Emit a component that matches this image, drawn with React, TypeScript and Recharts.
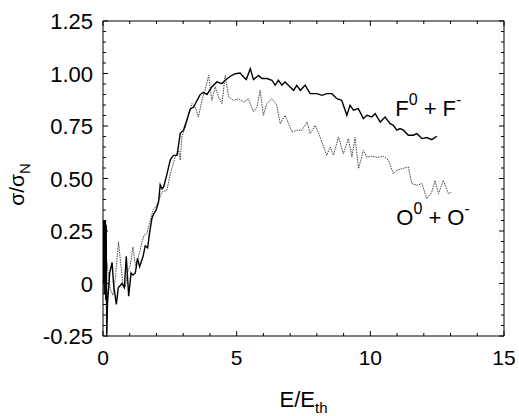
import React from 'react';
import { LineChart, Line, XAxis, YAxis, ReferenceDot, Label } from 'recharts';

// F0 + F- (solid)
const fEnergy = [0.00,0.015,0.03,0.045,0.06,0.075,0.09,0.105,0.12,0.14,0.17,0.25,0.34,0.40,0.50,0.57,0.71,0.80,0.87,0.96,1.05,1.12,1.21,1.29,1.37,1.50,1.58,1.67,1.74,1.83,1.89,1.99,2.08,2.14,2.21,2.27,2.39,2.52,2.64,2.77,2.89,3.01,3.14,3.26,3.39,3.51,3.64,3.76,3.89,4.07,4.26,4.45,4.57,4.76,4.95,5.13,5.26,5.36,5.51,5.63,5.82,5.94,6.13,6.32,6.44,6.56,6.69,6.81,7.00,7.13,7.25,7.38,7.56,7.75,8.00,8.19,8.37,8.56,8.75,8.93,9.12,9.24,9.37,9.55,9.74,9.87,10.06,10.18,10.37,10.55,10.74,10.86,10.99,11.11,11.24,11.42,11.61,11.74,11.93,12.11,12.30,12.49];
const fSigma = [0.30,0.00,0.30,-0.05,0.30,0.00,0.30,-0.08,0.28,-0.25,-0.09,0.05,0.10,-0.01,-0.10,-0.02,0.00,-0.02,0.13,-0.06,0.05,0.04,0.05,0.12,0.08,0.13,0.18,0.17,0.24,0.31,0.33,0.35,0.39,0.47,0.45,0.46,0.52,0.59,0.61,0.61,0.715,0.73,0.78,0.83,0.84,0.87,0.90,0.91,0.90,0.936,0.96,0.952,0.968,0.987,0.999,1.002,0.983,0.971,1.023,0.971,0.991,0.976,0.976,0.968,0.944,0.968,0.944,0.96,0.936,0.92,0.944,0.92,0.944,0.904,0.904,0.896,0.904,0.904,0.88,0.872,0.801,0.849,0.825,0.833,0.785,0.801,0.793,0.809,0.769,0.793,0.761,0.753,0.73,0.738,0.73,0.706,0.706,0.714,0.69,0.695,0.685,0.701];

// O0 + O- (dotted)
const oEnergy = [0.12,0.27,0.37,0.46,0.58,0.67,0.75,0.83,0.92,1.02,1.12,1.21,1.27,1.37,1.46,1.54,1.64,1.74,1.87,1.96,2.04,2.08,2.21,2.39,2.52,2.70,2.83,2.89,2.95,3.08,3.20,3.33,3.45,3.57,3.70,3.82,3.95,4.07,4.20,4.32,4.45,4.57,4.70,4.88,5.07,5.26,5.44,5.63,5.76,5.88,6.00,6.13,6.32,6.50,6.63,6.81,6.94,7.07,7.25,7.44,7.63,7.75,7.94,8.12,8.37,8.50,8.62,8.81,8.99,9.18,9.31,9.43,9.56,9.74,9.87,10.06,10.24,10.49,10.68,10.86,10.99,11.18,11.42,11.55,11.74,11.93,12.11,12.30,12.42,12.55,12.73,12.92,13.05];
const oSigma = [0.126,-0.024,-0.056,0.023,0.198,0.087,-0.009,-0.017,0.055,0.087,0.174,0.087,0.102,0.15,0.198,0.23,0.238,0.285,0.349,0.364,0.38,0.396,0.436,0.444,0.523,0.602,0.634,0.587,0.698,0.745,0.801,0.857,0.84,0.793,0.872,0.92,0.991,0.872,0.936,0.888,0.857,0.991,0.888,0.872,0.88,0.864,0.88,0.817,0.84,0.92,0.801,0.857,0.88,0.849,0.761,0.801,0.761,0.721,0.73,0.73,0.769,0.714,0.753,0.698,0.61,0.65,0.61,0.698,0.618,0.69,0.602,0.695,0.547,0.634,0.602,0.606,0.6,0.606,0.587,0.523,0.539,0.547,0.555,0.476,0.468,0.476,0.404,0.436,0.491,0.428,0.491,0.428,0.436];

const xTicks = [0,1,2,3,4,5,6,7,8,9,10,11,12,13,14,15];
const xLabeled = [0,5,10,15];
const yTicks = [-0.25,-0.2,-0.15,-0.1,-0.05,0,0.05,0.1,0.15,0.2,0.25,0.3,0.35,0.4,0.45,0.5,0.55,0.6,0.65,0.7,0.75,0.8,0.85,0.9,0.95,1,1.05,1.1,1.15,1.2,1.25];
const yLabeled = [-0.25,0,0.25,0.5,0.75,1,1.25];
const yLabelText = ['-0.25','0','0.25','0.50','0.75','1.00','1.25'];

const fData = fEnergy.map((x, i) => ({ x, y: fSigma[i] }));
const oData = oEnergy.map((x, i) => ({ x, y: oSigma[i] }));

const FONT = '"Liberation Sans", Arial, Helvetica, sans-serif';
const near = (a: number, b: number) => Math.abs(a - b) < 1e-6;

const XTickBottom = (props: any) => {
  const { x, y, payload } = props;
  const v = payload.value;
  const major = xLabeled.some((t) => near(t, v));
  return (
    <g>
      <line x1={x} x2={x} y1={y} y2={y - (major ? 5 : 3)} stroke="#000" strokeWidth={1} />
      {major && (
        <text x={x} y={y + 29} textAnchor="middle" fontSize={21} fontFamily={FONT} fill="#000">
          {String(v)}
        </text>
      )}
    </g>
  );
};

const XTickTop = (props: any) => {
  const { x, y, payload } = props;
  const major = xLabeled.some((t) => near(t, payload.value));
  return <line x1={x} x2={x} y1={y} y2={y + (major ? 5 : 3)} stroke="#000" strokeWidth={1} />;
};

const YTickLeft = (props: any) => {
  const { x, y, payload } = props;
  const idx = yLabeled.findIndex((t) => near(t, payload.value));
  return (
    <g>
      <line x1={x} x2={x + (idx >= 0 ? 5 : 3)} y1={y} y2={y} stroke="#000" strokeWidth={1} />
      {idx >= 0 && (
        <text x={x - 10} y={y + 8} textAnchor="end" fontSize={22} fontFamily={FONT} fill="#000">
          {yLabelText[idx]}
        </text>
      )}
    </g>
  );
};

const YTickRight = (props: any) => {
  const { x, y, payload } = props;
  const major = yLabeled.some((t) => near(t, payload.value));
  return <line x1={x} x2={x - (major ? 5 : 3)} y1={y} y2={y} stroke="#000" strokeWidth={1} />;
};

const seriesLabel = (sym: string) => (props: any) => {
  const vb = props.viewBox || {};
  const x = vb.x + (vb.width || 0) / 2;
  const y = vb.y + (vb.height || 0) / 2;
  return (
    <text x={x} y={y} fontSize={22} fontFamily={FONT} fill="#000">
      {sym}
      <tspan dy={-11} fontSize={16}>0</tspan>
      <tspan dy={11}>{' + ' + sym}</tspan>
      <tspan dy={-11} fontSize={16}>-</tspan>
    </text>
  );
};

const YAxisTitle = (props: any) => {
  const vb = props.viewBox || { x: 0, y: 0, height: 0 };
  const cx = vb.x + 24;
  const cy = vb.y + vb.height / 2 + 6;
  return (
    <text x={cx} y={cy} transform={`rotate(-90 ${cx} ${cy})`} textAnchor="middle" fontSize={21} fontFamily={FONT} fill="#000">
      σ/σ<tspan dy={6} fontSize={15}>N</tspan>
    </text>
  );
};

const XAxisTitle = (props: any) => {
  const vb = props.viewBox || { x: 0, y: 0, width: 0 };
  const cx = vb.x + vb.width / 2;
  const cy = vb.y + 71;
  return (
    <text x={cx} y={cy} textAnchor="middle" fontSize={22} fontFamily={FONT} fill="#000">
      E/E<tspan dy={6} fontSize={15}>th</tspan>
    </text>
  );
};

export default function App() {
  return (
    <div style={{ position: 'absolute', left: 0, top: 0, width: 519, height: 416, background: '#fff' }}>
      <LineChart width={519} height={416} margin={{ top: 0, right: 0, bottom: 0, left: 0 }}>
        <XAxis
          xAxisId={0}
          type="number"
          dataKey="x"
          domain={[0, 15]}
          ticks={xTicks}
          interval={0}
          allowDataOverflow
          orientation="bottom"
          height={80}
          tickSize={0}
          tickMargin={0}
          tickLine={false}
          axisLine={{ stroke: '#000', strokeWidth: 1 }}
          tick={<XTickBottom />}
        >
          <Label content={<XAxisTitle />} />
        </XAxis>
        <XAxis
          xAxisId="top"
          type="number"
          dataKey="x"
          domain={[0, 15]}
          ticks={xTicks}
          interval={0}
          allowDataOverflow
          orientation="top"
          height={21}
          tickSize={0}
          tickMargin={0}
          tickLine={false}
          axisLine={{ stroke: '#000', strokeWidth: 1 }}
          tick={<XTickTop />}
        />
        <YAxis
          yAxisId={0}
          type="number"
          domain={[-0.25, 1.25]}
          ticks={yTicks}
          interval={0}
          allowDataOverflow
          orientation="left"
          width={103}
          tickSize={0}
          tickMargin={0}
          tickLine={false}
          axisLine={{ stroke: '#000', strokeWidth: 1 }}
          tick={<YTickLeft />}
        >
          <Label content={<YAxisTitle />} />
        </YAxis>
        <YAxis
          yAxisId="right"
          type="number"
          domain={[-0.25, 1.25]}
          ticks={yTicks}
          interval={0}
          allowDataOverflow
          orientation="right"
          width={15}
          tickSize={0}
          tickMargin={0}
          tickLine={false}
          axisLine={{ stroke: '#000', strokeWidth: 1 }}
          tick={<YTickRight />}
        />
        <Line
          data={oData}
          dataKey="y"
          type="linear"
          stroke="#444"
          strokeWidth={1}
          strokeDasharray="1.5 1"
          dot={false}
          isAnimationActive={false}
        />
        <Line
          data={fData}
          dataKey="y"
          type="linear"
          stroke="#000"
          strokeWidth={1.4}
          dot={false}
          isAnimationActive={false}
        />
        <ReferenceDot x={10.93} y={0.80} r={1} fill="none" stroke="none" label={seriesLabel('F')} />
        <ReferenceDot x={10.97} y={0.28} r={1} fill="none" stroke="none" label={seriesLabel('O')} />
      </LineChart>
    </div>
  );
}
